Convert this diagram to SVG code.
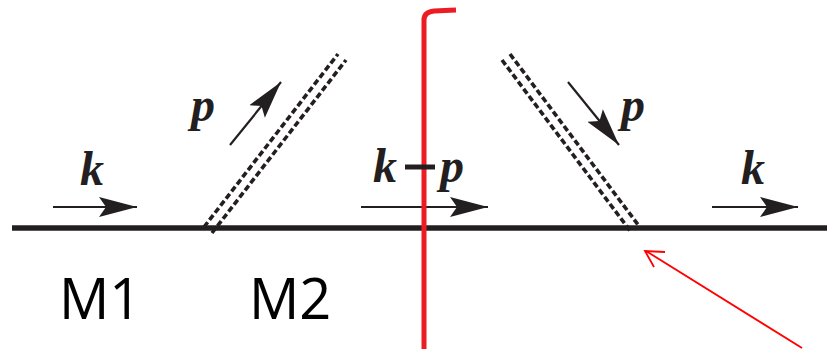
<svg xmlns="http://www.w3.org/2000/svg" width="827" height="349" viewBox="0 0 827 349">
<style>
.dash{stroke:#231f20;stroke-width:3.6;stroke-dasharray:6 3;fill:none}
.arr{stroke:#231f20;stroke-width:2.2;fill:none}
.lbl{font-family:"Liberation Serif",serif;font-style:italic;font-weight:bold;font-size:48px;fill:#231f20}
.m{font-family:"Open Sans",sans-serif;font-size:56px;fill:#000}
</style>
<defs>
<marker id="ah" markerUnits="userSpaceOnUse" markerWidth="44" markerHeight="24" refX="38" refY="11" orient="auto">
<path d="M0,1 L38,11 L0,21 L7,11 Z" fill="#231f20"/>
</marker>
</defs>
<g id="connectors">
<line x1="12" y1="228" x2="827" y2="228" stroke="#231f20" stroke-width="5.5"/>
<g id="photon-left">
<line class="dash" x1="204" y1="227" x2="338" y2="54"/>
<line class="dash" x1="212" y1="233" x2="346" y2="60"/>
</g>
<g id="photon-right">
<line class="dash" x1="502" y1="60" x2="631" y2="232"/>
<line class="dash" x1="510" y1="54" x2="639" y2="226"/>
</g>
<line class="arr" x1="53" y1="207" x2="137" y2="207" marker-end="url(#ah)"/>
<line class="arr" x1="361" y1="207" x2="488" y2="207" marker-end="url(#ah)"/>
<line class="arr" x1="712" y1="207" x2="798" y2="207" marker-end="url(#ah)"/>
<line class="arr" x1="230" y1="145" x2="281" y2="82" marker-end="url(#ah)"/>
<line class="arr" x1="568" y1="82" x2="619" y2="145" marker-end="url(#ah)"/>
<g id="cut">
<path d="M424,349 L424,20 Q424,12 434,11 L456,10" stroke="#ed1c24" stroke-width="5" fill="none"/>
</g>
<g id="pointer">
<line x1="802" y1="348" x2="646" y2="251" stroke="#ff0000" stroke-width="1.8"/>
<path d="M665,252 L645,251 L654,267" stroke="#ff0000" stroke-width="1.8" fill="none"/>
</g>
</g>
<g id="labels">
<text class="lbl" x="80" y="185">k</text>
<text class="lbl" x="741" y="184">k</text>
<text class="lbl" x="373" y="182">k</text>
<line x1="405" y1="167" x2="435" y2="167" stroke="#231f20" stroke-width="5"/>
<text class="lbl" x="440" y="182">p</text>
<text class="lbl" x="191" y="121">p</text>
<text class="lbl" x="621" y="121">p</text>
</g>
<g id="M1"><text class="m" x="59" y="319">M1</text></g>
<g id="M2"><text class="m" x="249" y="319">M2</text></g>
</svg>
